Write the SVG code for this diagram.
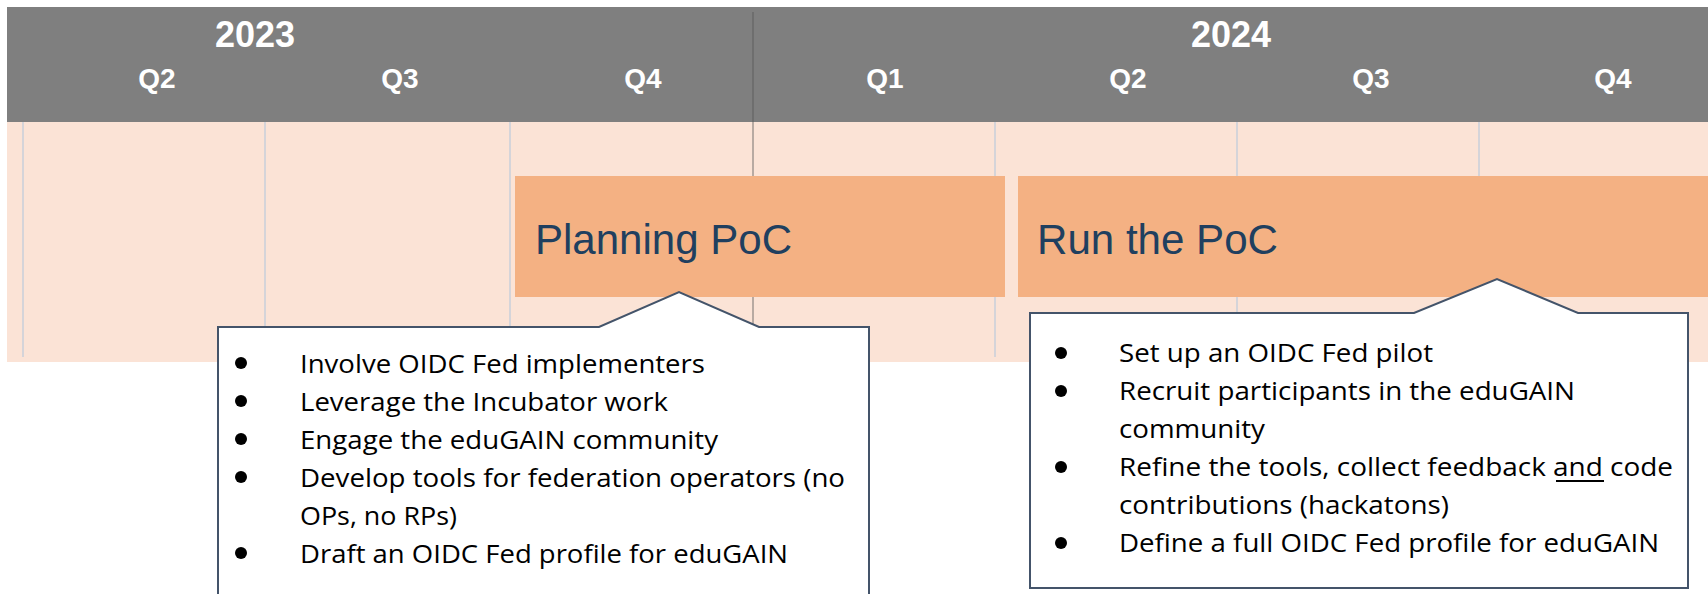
<svg xmlns="http://www.w3.org/2000/svg" width="1708" height="594" viewBox="0 0 1708 594">
<style>
.hdr{font-family:"Liberation Sans",Arial,sans-serif;font-weight:bold;fill:#ffffff;text-anchor:middle}
.yr{font-size:36px}
.q{font-size:28px}
.qline{stroke:#c8cfda;stroke-width:1.5}
.phase{fill:#f4b183}
.ptxt{font-family:"Liberation Sans",Arial,sans-serif;font-size:42px;fill:#203f5f}
.callout{fill:#ffffff;stroke:#44546a;stroke-width:2;stroke-linejoin:miter}
.ct{font-family:"Open Sans","Liberation Sans",sans-serif;font-size:26px;fill:#000000}
.bul{fill:#000000}
</style>
<rect x="7" y="122" width="1701" height="240" fill="#fbe3d6"/>
<rect x="7" y="7" width="1701" height="115" fill="#7f7f7f"/>
<g id="gridlines">
<line class="qline" x1="23" y1="122" x2="23" y2="357"/>
<line class="qline" x1="265" y1="122" x2="265" y2="357"/>
<line class="qline" x1="510" y1="122" x2="510" y2="357"/>
<line class="qline" x1="995" y1="122" x2="995" y2="357"/>
<line class="qline" x1="1237" y1="122" x2="1237" y2="357"/>
<line class="qline" x1="1479" y1="122" x2="1479" y2="357"/>
<line x1="753" y1="12" x2="753" y2="340" stroke="#555555" stroke-opacity="0.4" stroke-width="2"/>
</g>
<g id="header">
<text class="hdr yr" x="255" y="47">2023</text>
<text class="hdr yr" x="1231" y="47">2024</text>
<text class="hdr q" x="157" y="88">Q2</text>
<text class="hdr q" x="400" y="88">Q3</text>
<text class="hdr q" x="643" y="88">Q4</text>
<text class="hdr q" x="885" y="88">Q1</text>
<text class="hdr q" x="1128" y="88">Q2</text>
<text class="hdr q" x="1371" y="88">Q3</text>
<text class="hdr q" x="1613" y="88">Q4</text>
</g>
<g id="phase-planning">
<rect class="phase" x="515" y="176" width="490" height="121"/>
<text class="ptxt" x="535" y="254" textLength="257" lengthAdjust="spacingAndGlyphs">Planning PoC</text>
</g>
<g id="phase-run">
<rect class="phase" x="1018" y="176" width="690" height="121"/>
<text class="ptxt" x="1037" y="254" textLength="241" lengthAdjust="spacingAndGlyphs">Run the PoC</text>
</g>
<g id="connectors"></g>
<g id="callout-planning">
<path class="callout" d="M218,327 L599,327 L679,292 L759,327 L869,327 L869,600 L218,600 Z"/>
<circle class="bul" cx="241" cy="363" r="6"/>
<circle class="bul" cx="241" cy="401" r="6"/>
<circle class="bul" cx="241" cy="439" r="6"/>
<circle class="bul" cx="241" cy="477" r="6"/>
<circle class="bul" cx="241" cy="553" r="6"/>
<text class="ct" x="300" y="373" textLength="405" lengthAdjust="spacingAndGlyphs">Involve OIDC Fed implementers</text>
<text class="ct" x="300" y="411" textLength="368" lengthAdjust="spacingAndGlyphs">Leverage the Incubator work</text>
<text class="ct" x="300" y="449" textLength="418" lengthAdjust="spacingAndGlyphs">Engage the eduGAIN community</text>
<text class="ct" x="300" y="487" textLength="545" lengthAdjust="spacingAndGlyphs">Develop tools for federation operators (no</text>
<text class="ct" x="300" y="525" textLength="157" lengthAdjust="spacingAndGlyphs">OPs, no RPs)</text>
<text class="ct" x="300" y="563" textLength="488" lengthAdjust="spacingAndGlyphs">Draft an OIDC Fed profile for eduGAIN</text>
</g>
<g id="callout-run">
<path class="callout" d="M1030,313 L1414,313 L1497,279 L1578,313 L1688,313 L1688,588 L1030,588 Z"/>
<circle class="bul" cx="1061" cy="353" r="6"/>
<circle class="bul" cx="1061" cy="391" r="6"/>
<circle class="bul" cx="1061" cy="467" r="6"/>
<circle class="bul" cx="1061" cy="543" r="6"/>
<text class="ct" x="1119" y="362" textLength="314" lengthAdjust="spacingAndGlyphs">Set up an OIDC Fed pilot</text>
<text class="ct" x="1119" y="400" textLength="456" lengthAdjust="spacingAndGlyphs">Recruit participants in the eduGAIN</text>
<text class="ct" x="1119" y="438" textLength="146" lengthAdjust="spacingAndGlyphs">community</text>
<text class="ct" x="1119" y="476" textLength="554" lengthAdjust="spacingAndGlyphs">Refine the tools, collect feedback and code</text>
<line x1="1556" y1="481" x2="1604" y2="481" stroke="#000000" stroke-width="2"/>
<text class="ct" x="1119" y="514" textLength="330" lengthAdjust="spacingAndGlyphs">contributions (hackatons)</text>
<text class="ct" x="1119" y="552" textLength="540" lengthAdjust="spacingAndGlyphs">Define a full OIDC Fed profile for eduGAIN</text>
</g>
</svg>
